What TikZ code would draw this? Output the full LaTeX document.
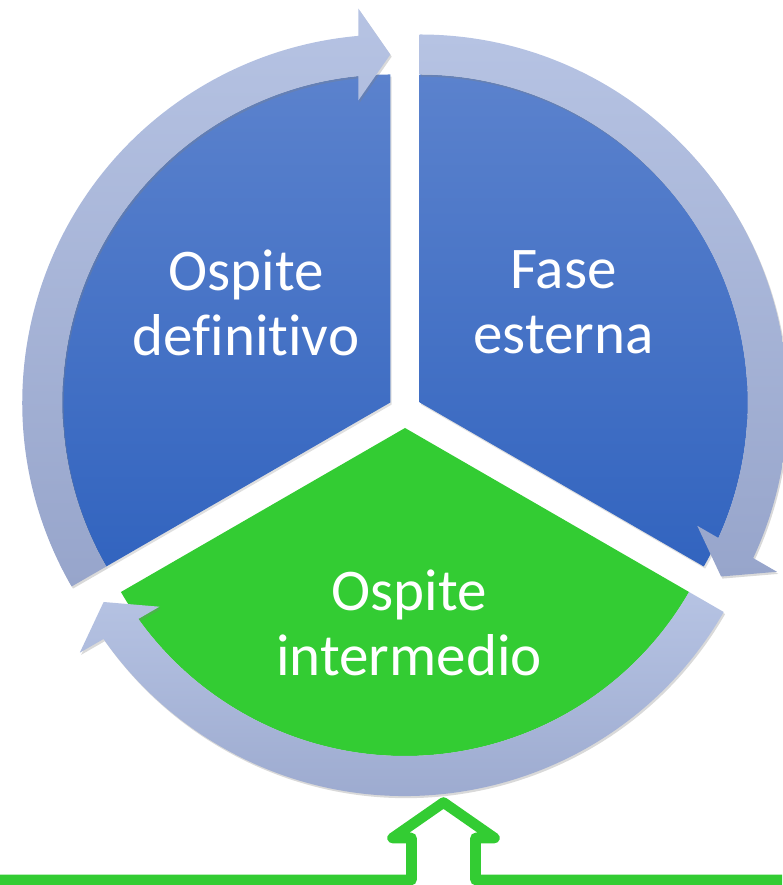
\documentclass[tikz,border=0pt]{standalone}
\usepackage{fontspec}
\setmainfont{Carlito}[Ligatures={NoCommon,NoContextual}]
\usetikzlibrary{calc,shadows}
\definecolor{ringtop}{HTML}{B6C3E3}
\definecolor{ringbot}{HTML}{97A5CB}
\definecolor{sectop}{HTML}{5B82CD}
\definecolor{secbot}{HTML}{3264BF}
\definecolor{hostgreen}{HTML}{33CC33}
\tikzset{
  sector/.style={top color=sectop, bottom color=secbot, draw=none,
    drop shadow={shadow xshift=1pt, shadow yshift=-1.5pt, opacity=0.25}},
  ring/.style={top color=ringtop, bottom color=ringbot, draw=none,
    drop shadow={shadow xshift=1pt, shadow yshift=-1.5pt, opacity=0.3}},
  lbl/.style={text=white, align=center, inner sep=0pt,
    font=\fontsize{42}{46.2}\selectfont}
}
% ring arrow: #1 centre, #2 start angle (flat end), #3 end angle (tip)
\newcommand\cyclering[3]{%
  \path[ring] ([shift={(#1)}]#2:368) arc[start angle=#2, end angle=#3+4.99, radius=368]
    -- ($(#1)+(#3:394)+(#3+90:32)$) -- ($(#1)+(#3:348)$)
    -- ($(#1)+(#3:302)+(#3+90:32)$)
    -- ([shift={(#1)}]#3+5.6:328) arc[start angle=#3+5.6, end angle=#2, radius=328] -- cycle;}
\begin{document}
\begin{tikzpicture}[x=0.025cm, y=0.025cm]
\useasboundingbox (0,0) rectangle (782,885);
\coordinate (L) at (390.3,482.5);
\coordinate (R) at (419.7,482.5);
\coordinate (G) at (405,457);

% pie sectors
\path[sector] (L) -- ([shift={(L)}]90:328) arc[start angle=90, end angle=210, radius=328] -- cycle;
\path[sector] (R) -- ([shift={(R)}]90:328) arc[start angle=90, end angle=-30, radius=328] -- cycle;
\path[sector, top color=hostgreen, bottom color=hostgreen] (G) -- ([shift={(G)}]-30:328) arc[start angle=-30, end angle=-150, radius=328] -- cycle;

% cycle arrows
\cyclering{L}{210}{90}
\cyclering{R}{90}{-30}
\cyclering{G}{-30}{-150}

% labels
\node[lbl] (def) at (246,582) {Ospite\\definitivo};
\node[lbl] (ext) at (563.5,582.5) {Fase\\esterna};
\node[lbl] (int) at (409,262) {Ospite\\intermedio};

% bottom outlined arrow
\coordinate (bl) at (0,5);
\coordinate (br) at (782,5);
\draw[hostgreen, line width=7.5pt, line join=round]
  (bl) -- (411.5,5) -- (411.5,47) -- (392.5,47) -- (443.5,82.5)
  -- (494.5,47) -- (475.5,47) -- (475.5,5) -- (br);
\end{tikzpicture}
\end{document}
